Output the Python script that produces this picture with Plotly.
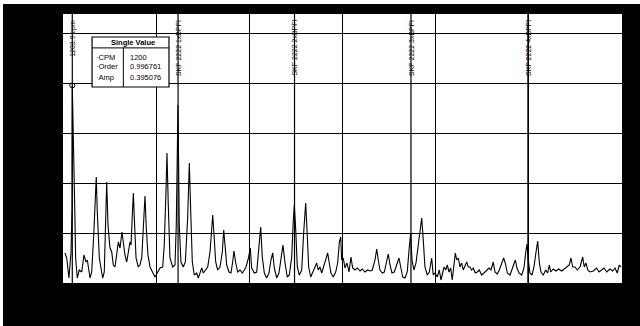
import plotly.graph_objects as go

# Spectrum (x in orders of running speed, y amplitude)
order = [0.21, 0.40, 0.64, 0.86, 0.97, 0.997, 1.26, 1.36, 1.53, 1.75, 2.01, 2.25, 2.47, 2.61, 2.90,
         3.08, 3.30, 3.47, 3.57, 3.68, 3.90, 4.11, 4.26, 4.43, 4.58, 4.69, 4.83, 5.04, 5.23, 5.40,
         5.58, 5.76, 5.94, 6.12, 6.33, 6.47, 6.65, 6.84, 7.01, 7.19, 7.30, 7.41, 7.55, 7.70, 7.84,
         8.08, 8.26, 8.45, 8.62, 8.80, 8.94, 9.12, 9.34, 9.63, 9.87, 10.12, 10.41, 10.70, 10.87, 11.05,
         11.16, 11.30, 11.48, 11.77, 12.02, 12.16, 12.27, 12.34, 12.48, 12.66, 12.91, 13.13, 13.38, 13.56, 13.71,
         13.88, 14.09, 14.35, 14.52, 14.70, 14.89, 15.06, 15.32, 15.53, 15.78, 15.96, 16.07, 16.21, 16.39, 16.60,
         16.85, 17.10, 17.25, 17.39, 17.57, 17.82, 18.03, 18.21, 18.35, 18.54, 18.75, 19.00, 19.24, 19.46, 19.64,
         19.91, 20.10, 20.25, 20.53, 20.79, 20.96, 21.22, 21.39, 21.61, 21.86, 22.11, 22.32, 22.51, 22.68, 22.94,
         23.18, 23.40, 23.61, 23.83, 24.07, 24.29, 24.55, 24.72, 24.83, 24.98, 25.15, 25.36, 25.62, 25.83, 26.05,
         26.19, 26.37, 26.59, 26.83, 27.05, 27.23, 27.40, 27.58, 27.77, 27.98, 28.20, 28.41, 28.58, 28.76, 29.01,
         29.27, 29.48, 29.66, 29.81, 29.91, 30.08, 30.27, 30.48, 30.70, 30.91, 31.09, 31.34, 31.59, 31.88, 32.12,
         32.41, 32.70, 32.95, 33.20, 33.49, 33.67, 33.84, 34.02, 34.27, 34.49, 34.70, 34.91, 35.10, 35.31, 35.56,
         35.82, 36.06, 36.25, 36.46, 36.71, 36.95, 37.17, 37.32, 37.46, 37.67, 37.89, 38.13, 38.37, 38.50, 38.67,
         38.85, 39.10, 39.32, 39.57, 39.74, 39.93, 40.17, 40.39, 40.57, 40.75, 40.89, 41.08, 41.25, 41.43, 41.61,
         41.78, 41.97, 42.11, 42.26, 42.43, 42.61, 42.79, 42.96, 43.15, 43.33, 43.50, 43.68, 43.86, 44.04, 44.25,
         44.47, 44.68, 44.94, 45.19, 45.48, 45.72, 45.94, 46.18, 46.37, 46.61, 46.83, 47.04, 47.30, 47.47, 47.69,
         47.98, 48.27, 48.55, 48.73, 48.94, 49.23, 49.48, 49.66, 49.80, 49.94, 50.12, 50.34, 50.55, 50.77, 50.95,
         51.12, 51.30, 51.55, 51.81, 52.02, 52.20, 52.35, 52.62, 52.91, 53.20, 53.53, 53.80, 54.06, 54.34, 54.52,
         54.71, 54.95, 55.20, 55.49, 55.67, 55.78, 55.95, 56.13, 56.32, 56.56, 56.92, 57.28, 57.53, 57.82, 58.07,
         58.36, 58.71, 59.00, 59.25, 59.49, 59.71, 59.89]
amp = [0.060, 0.050, 0.010, 0.062, 0.150, 0.395, 0.150, 0.050, 0.010, 0.026, 0.022, 0.056, 0.042, 0.046, 0.010,
       0.022, 0.096, 0.196, 0.212, 0.142, 0.050, 0.026, 0.010, 0.022, 0.142, 0.202, 0.116, 0.070, 0.062, 0.036,
       0.032, 0.056, 0.082, 0.070, 0.102, 0.082, 0.056, 0.042, 0.062, 0.082, 0.076, 0.116, 0.180, 0.110, 0.050,
       0.032, 0.036, 0.050, 0.116, 0.174, 0.110, 0.056, 0.032, 0.022, 0.012, 0.020, 0.030, 0.032, 0.076, 0.182,
       0.260, 0.156, 0.050, 0.032, 0.036, 0.116, 0.276, 0.356, 0.116, 0.042, 0.032, 0.042, 0.130, 0.240, 0.142,
       0.042, 0.016, 0.020, 0.010, 0.020, 0.030, 0.020, 0.026, 0.032, 0.062, 0.102, 0.136, 0.096, 0.042, 0.026,
       0.032, 0.062, 0.106, 0.076, 0.036, 0.022, 0.020, 0.042, 0.064, 0.040, 0.022, 0.026, 0.020, 0.026, 0.032,
       0.050, 0.070, 0.030, 0.020, 0.022, 0.060, 0.112, 0.052, 0.020, 0.010, 0.020, 0.046, 0.060, 0.030, 0.010,
       0.020, 0.052, 0.076, 0.040, 0.012, 0.016, 0.052, 0.126, 0.156, 0.106, 0.032, 0.016, 0.026, 0.100, 0.160,
       0.106, 0.032, 0.012, 0.022, 0.032, 0.040, 0.026, 0.032, 0.020, 0.032, 0.046, 0.060, 0.040, 0.020, 0.012,
       0.022, 0.040, 0.082, 0.092, 0.046, 0.050, 0.030, 0.040, 0.022, 0.052, 0.030, 0.026, 0.030, 0.024, 0.028,
       0.022, 0.026, 0.024, 0.026, 0.046, 0.068, 0.046, 0.026, 0.020, 0.022, 0.040, 0.058, 0.036, 0.020, 0.022,
       0.036, 0.050, 0.032, 0.012, 0.010, 0.022, 0.072, 0.100, 0.046, 0.026, 0.040, 0.080, 0.116, 0.130, 0.086,
       0.032, 0.016, 0.022, 0.050, 0.016, 0.020, 0.012, 0.026, 0.006, 0.020, 0.032, 0.026, 0.036, 0.022, 0.030,
       0.006, 0.042, 0.060, 0.046, 0.050, 0.032, 0.040, 0.026, 0.036, 0.042, 0.032, 0.032, 0.026, 0.030, 0.020,
       0.022, 0.026, 0.016, 0.020, 0.026, 0.030, 0.026, 0.042, 0.022, 0.018, 0.026, 0.036, 0.050, 0.040, 0.020,
       0.016, 0.030, 0.046, 0.030, 0.020, 0.016, 0.030, 0.060, 0.078, 0.046, 0.020, 0.016, 0.032, 0.062, 0.084,
       0.042, 0.022, 0.016, 0.026, 0.020, 0.036, 0.022, 0.028, 0.024, 0.028, 0.024, 0.028, 0.032, 0.036, 0.050,
       0.032, 0.032, 0.026, 0.032, 0.046, 0.052, 0.032, 0.040, 0.026, 0.022, 0.024, 0.030, 0.022, 0.026, 0.030,
       0.022, 0.028, 0.024, 0.030, 0.020, 0.036, 0.032]

# Fault-frequency markers
marker_orders = [0.996761, 12.35, 24.85, 37.35, 49.9]
marker_labels = ["1203.9 cpm", "SKF 2222 1xBPFI", "SKF 2222 2xBPFI", "SKF 2222 3xBPFI", "SKF 2222 4xBPFI"]

# Cursor readout
cursor_cpm = 1200
cursor_order = 0.996761
cursor_amp = 0.395076
readout_names = ["CPM", "Order", "Amp"]
readout_values = ["1200", "0.996761", "0.395076"]

fig = go.Figure()
fig.add_trace(go.Scatter(x=order, y=amp, mode="lines",
                         line=dict(color="black", width=1.1), hoverinfo="skip"))
fig.add_trace(go.Scatter(x=[cursor_order], y=[cursor_amp], mode="markers", hoverinfo="skip",
                         marker=dict(symbol="circle-open", size=5, color="black", line=dict(width=1))))

font = "Liberation Sans, Arial, sans-serif"
shapes = []
annotations = []
for xo, lab in zip(marker_orders, marker_labels):
    shapes.append(dict(type="line", x0=xo, x1=xo, xref="x", yref="paper", y0=0, y1=1,
                       line=dict(color="black", width=1.2)))
    annotations.append(dict(x=xo, xref="x", y=0.985, yref="paper", text=lab, textangle=-90,
                            showarrow=False, xanchor="center", yanchor="top",
                            font=dict(family=font, size=7, color="black")))

# white strips along the very top and left edge of the scan
shapes.append(dict(type="rect", xref="paper", yref="paper", x0=-0.12, x1=1.04, y0=1.037, y1=1.06,
                   fillcolor="white", line=dict(width=0), layer="above"))
shapes.append(dict(type="rect", xref="paper", yref="paper", x0=-0.12, x1=-0.1073, y0=-0.17, y1=1.06,
                   fillcolor="white", line=dict(width=0), layer="above"))

# readout box
bx0, bx1, by0, by1 = 0.052, 0.1896, 0.7286, 0.9145
hdr = 0.874
div = 0.108
shapes += [
    dict(type="rect", xref="paper", yref="paper", x0=bx0, x1=bx1, y0=by0, y1=by1,
         fillcolor="white", line=dict(color="black", width=1.2), layer="above"),
    dict(type="line", xref="paper", yref="paper", x0=bx0, x1=bx1, y0=hdr, y1=hdr,
         line=dict(color="black", width=1), layer="above"),
    dict(type="line", xref="paper", yref="paper", x0=div, x1=div, y0=by0, y1=hdr,
         line=dict(color="black", width=1), layer="above"),
]
annotations.append(dict(x=(bx0 + bx1) / 2 + 0.005, y=(hdr + by1) / 2, xref="paper", yref="paper",
                        text="<b>Single Value</b>", showarrow=False, xanchor="center", yanchor="middle",
                        font=dict(family=font, size=7.5, color="black")))
row_y = [0.84, 0.805, 0.765]
for ry, nm, val in zip(row_y, readout_names, readout_values):
    annotations.append(dict(x=bx0 + 0.004, y=ry, xref="paper", yref="paper", text="·" + nm,
                            showarrow=False, xanchor="left", yanchor="middle",
                            font=dict(family=font, size=7.5, color="black")))
    annotations.append(dict(x=div + 0.008, y=ry, xref="paper", yref="paper", text=val,
                            showarrow=False, xanchor="left", yanchor="middle",
                            font=dict(family=font, size=7.5, color="black")))

fig.update_layout(
    width=640, height=326,
    margin=dict(l=63, r=18, t=14, b=43),
    paper_bgcolor="black", plot_bgcolor="white",
    showlegend=False, hovermode=False,
    shapes=shapes, annotations=annotations,
    xaxis=dict(range=[0, 60], dtick=10, showticklabels=False, ticks="",
               showgrid=True, gridcolor="black", gridwidth=1.2, zeroline=False,
               showline=False),
    yaxis=dict(range=[0, 0.538], dtick=0.1, showticklabels=False, ticks="",
               showgrid=True, gridcolor="black", gridwidth=1.2, zeroline=False,
               showline=False),
)

fig.write_html("out.html", config={"displayModeBar": False},
               post_script="document.body.style.margin='0';document.body.style.padding='0';")
